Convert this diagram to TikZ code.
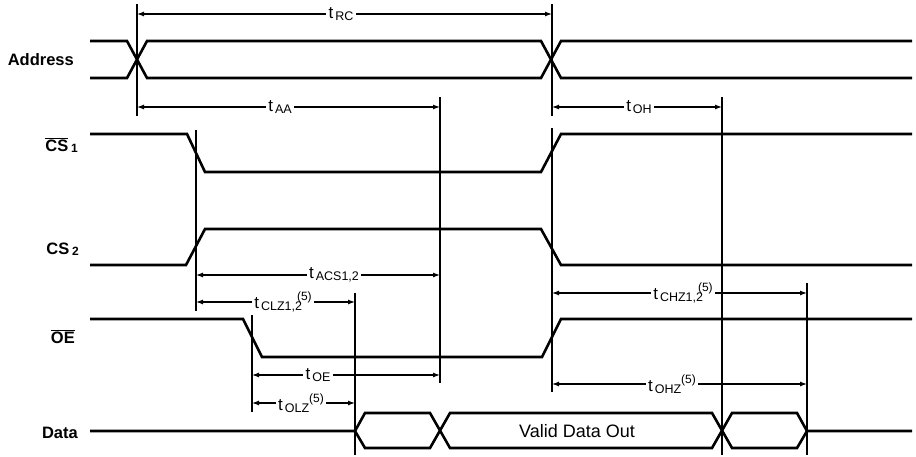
\documentclass[tikz,border=0pt]{standalone}
\usepackage{fontspec}
\setmainfont{Liberation Sans}
\usetikzlibrary{arrows.meta}
\newcommand\tlab[2]{t\hspace{2pt}\raisebox{-1.5pt}{\fontsize{12.5}{12}\selectfont #1}#2}
\newcommand\fivesup{\raisebox{8pt}{\fontsize{12}{12}\selectfont(5)}}
\begin{document}
\begin{tikzpicture}[x=1pt,y=-1pt,
  sig/.style={line width=2.6pt, line join=miter},
  refl/.style={line width=1.3pt},
  dim/.style={line width=1.2pt, {Latex[length=7pt,width=5pt]}-{Latex[length=7pt,width=5pt]}},
  lbl/.style={font=\fontsize{16.5}{18}\selectfont\bfseries, anchor=base east, inner sep=0pt},
  tl/.style={fill=white, inner sep=2.5pt, font=\fontsize{17}{18}\selectfont},
]
\useasboundingbox (0,0) rectangle (916,456);

% signal labels
\node[lbl] (lAddr) at (74,65) {Address};
\node[lbl] (lCSa) at (78,151) {$\overline{\mbox{CS}}$\,\raisebox{-1pt}{\fontsize{12}{12}\selectfont 1}};
\node[lbl] (lCSb) at (79,254) {CS\,\raisebox{-1pt}{\fontsize{12}{12}\selectfont 2}};
\node[lbl] (lOE) at (75,343) {$\overline{\mbox{OE}}$};
\node[lbl] (lData) at (78,438) {Data};

% signals
\draw[sig] (90,41) -- (127,41) -- (147,78) -- (541,78) -- (561,41) -- (912,41);
\draw[sig] (90,78) -- (127,78) -- (147,41) -- (541,41) -- (561,78) -- (912,78);
\draw[sig] (90,134) -- (187,134) -- (205,172) -- (541,172) -- (561,134) -- (912,134);
\draw[sig] (90,265) -- (186,265) -- (205,229) -- (541,229) -- (561,265) -- (912,265);
\draw[sig] (90,319) -- (243,319) -- (262,357) -- (542,357) -- (561,319) -- (912,319);
\draw[sig] (90,431) -- (355,431) -- (365,413) -- (430,413) -- (450,448) -- (712,448) -- (732,413) -- (797,413) -- (807,431) -- (912,431);
\draw[sig] (355,431) -- (365,448) -- (430,448) -- (450,413) -- (712,413) -- (732,448) -- (797,448) -- (807,431);
\node[font=\fontsize{18}{20}\selectfont] (valid) at (577,431) {Valid Data Out};

% reference lines
\coordinate (v1t) at (137,4);   \coordinate (v1b) at (137,116);
\coordinate (v2t) at (552,4);   \coordinate (v2b) at (552,116);
\coordinate (v3t) at (552,128); \coordinate (v3b) at (552,392);
\coordinate (v4t) at (440,97);  \coordinate (v4b) at (440,383);
\coordinate (v5t) at (722,97);  \coordinate (v5b) at (722,455);
\coordinate (v6t) at (196,130); \coordinate (v6b) at (196,311);
\coordinate (v7t) at (252,315); \coordinate (v7b) at (252,412);
\coordinate (v8t) at (355,293); \coordinate (v8b) at (355,455);
\coordinate (v9t) at (807,283); \coordinate (v9b) at (807,455);
\foreach \v in {1,...,9} {\draw[refl] (v\v t) -- (v\v b);}

% dimension lines
\coordinate (rcL) at (137,14);  \coordinate (rcR) at (552,14);
\coordinate (aaL) at (137,107); \coordinate (aaR) at (440,107);
\coordinate (ohL) at (552,107); \coordinate (ohR) at (722,107);
\coordinate (acL) at (196,275); \coordinate (acR) at (440,275);
\coordinate (clL) at (196,302); \coordinate (clR) at (355,302);
\coordinate (chL) at (552,293); \coordinate (chR) at (807,293);
\coordinate (oeL) at (252,375); \coordinate (oeR) at (440,375);
\coordinate (olL) at (252,403); \coordinate (olR) at (355,403);
\coordinate (ozL) at (552,384); \coordinate (ozR) at (807,384);

\draw[dim] (rcL) -- (rcR);
\draw[dim] (aaL) -- (aaR);
\draw[dim] (ohL) -- (ohR);
\draw[dim] (acL) -- (acR);
\draw[dim] (clL) -- (clR);
\draw[dim] (chL) -- (chR);
\draw[dim] (oeL) -- (oeR);
\draw[dim] (olL) -- (olR);
\draw[dim] (ozL) -- (ozR);

\node[tl] (tRC) at (341,14) {\tlab{RC}{}};
\node[tl] (tAA) at (280,107) {\tlab{AA}{}};
\node[tl] (tOH) at (639,107) {\tlab{OH}{}};
\node[tl] (tACS) at (334,275) {\tlab{ACS1,2}{}};
\node[tl, inner ysep=1pt] (tCLZ) at (283,302) {\tlab{CLZ1,2}{\hspace{-5pt}\fivesup}};
\node[tl, inner ysep=1pt] (tCHZ) at (683,293) {\tlab{CHZ1,2}{\hspace{-5pt}\fivesup}};
\node[tl] (tOE) at (318,375) {\tlab{OE}{}};
\node[tl, inner ysep=1pt] (tOLZ) at (301,403) {\tlab{OLZ}{\fivesup}};
\node[tl, inner ysep=1pt] (tOHZ) at (672,384) {\tlab{OHZ}{\fivesup}};
\end{tikzpicture}
\end{document}
